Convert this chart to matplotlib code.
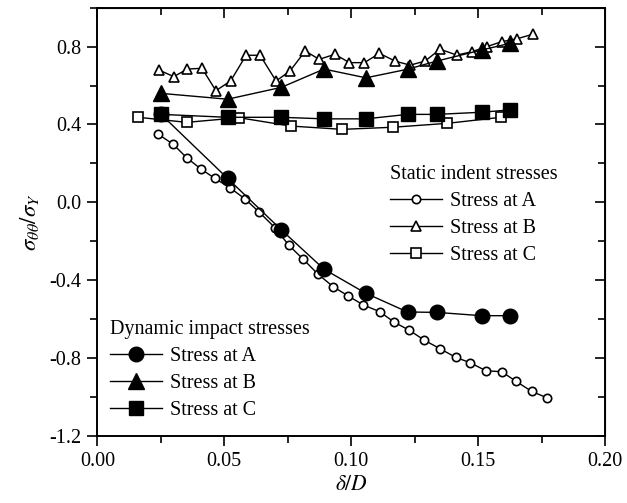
import numpy as np
import matplotlib
matplotlib.use("Agg")
import matplotlib.pyplot as plt
from matplotlib.ticker import MultipleLocator

# static indent stresses (open markers)
static_a_x = [0.0240, 0.0299, 0.0352, 0.0408, 0.0463, 0.0522, 0.0582, 0.0638, 0.0700,
              0.0755, 0.0812, 0.0869, 0.0929, 0.0989, 0.1048, 0.1112, 0.1170, 0.1228,
              0.1287, 0.1350, 0.1412, 0.1469, 0.1531, 0.1593, 0.1649, 0.1711, 0.1773]
static_a_y = [0.350, 0.298, 0.229, 0.171, 0.123, 0.075, 0.017, -0.051, -0.131,
              -0.222, -0.294, -0.369, -0.434, -0.482, -0.528, -0.562, -0.617, -0.657,
              -0.708, -0.753, -0.797, -0.825, -0.866, -0.871, -0.920, -0.972, -1.006]

static_b_x = [0.0243, 0.0301, 0.0354, 0.0412, 0.0467, 0.0525, 0.0586, 0.0641, 0.0704,
              0.0759, 0.0819, 0.0874, 0.0936, 0.0993, 0.1052, 0.1111, 0.1173, 0.1232,
              0.1291, 0.1350, 0.1416, 0.1475, 0.1534, 0.1593, 0.1652, 0.1715]
static_b_y = [0.680, 0.646, 0.685, 0.689, 0.574, 0.624, 0.756, 0.756, 0.624,
              0.675, 0.778, 0.735, 0.761, 0.718, 0.718, 0.766, 0.726, 0.705,
              0.726, 0.787, 0.757, 0.774, 0.800, 0.826, 0.840, 0.864]

static_c_x = [0.0161, 0.0352, 0.0558, 0.0762, 0.0965, 0.1166, 0.1379, 0.1590]
static_c_y = [0.437, 0.411, 0.435, 0.392, 0.375, 0.386, 0.406, 0.437]

# dynamic impact stresses (filled markers)
dyn_x = [0.0251, 0.0513, 0.0725, 0.0893, 0.1058, 0.1222, 0.1337, 0.1514, 0.1625]
dyn_a_y = [0.452, 0.123, -0.142, -0.344, -0.468, -0.564, -0.566, -0.583, -0.583]
dyn_b_y = [0.560, 0.530, 0.591, 0.685, 0.640, 0.684, 0.726, 0.783, 0.817]
dyn_c_y = [0.452, 0.437, 0.437, 0.429, 0.429, 0.452, 0.452, 0.463, 0.475]

plt.rcParams['font.family'] = 'Liberation Serif'
plt.rcParams['mathtext.fontset'] = 'stix'
plt.rcParams['axes.unicode_minus'] = False
fs = 14.5

fig = plt.figure(figsize=(6.27, 5.03), dpi=100)
ax = fig.add_axes([0.1553, 0.1338, 0.8096, 0.8507])

lw = 1.0
ow = 1.2
sa, = ax.plot(static_a_x, static_a_y, '-o', color='black', lw=lw, ms=6, mfc='white', mew=ow)
sb, = ax.plot(static_b_x, static_b_y, '-^', color='black', lw=lw, ms=7.5, mfc='white', mew=ow)
sc, = ax.plot(static_c_x, static_c_y, '-s', color='black', lw=lw, ms=7, mfc='white', mew=ow)

da, = ax.plot(dyn_x, dyn_a_y, '-o', color='black', lw=lw, ms=10.5)
db, = ax.plot(dyn_x, dyn_b_y, '-^', color='black', lw=lw, ms=11)
dc, = ax.plot(dyn_x, dyn_c_y, '-s', color='black', lw=lw, ms=9.5)

ax.set_xlim(0, 0.2)
ax.set_ylim(-1.2, 1.0)
ax.xaxis.set_minor_locator(MultipleLocator(0.025))
ax.yaxis.set_minor_locator(MultipleLocator(0.2))
ax.set_xticks([0, 0.05, 0.10, 0.15, 0.20])
ax.set_xticklabels(['0.00', '0.05', '0.10', '0.15', '0.20'])
ax.set_yticks([-1.2, -0.8, -0.4, 0.0, 0.4, 0.8])
ax.set_yticklabels(['-1.2', '-0.8', '-0.4', '0.0', '0.4', '0.8'])
ax.tick_params(which='major', direction='out', length=7.5, width=1.2, labelsize=fs, pad=4)
ax.tick_params(which='minor', direction='out', length=5, width=1.2)
for s in ax.spines.values():
    s.set_linewidth(1.4)

# inward ticks on top and right
top = ax.secondary_xaxis('top')
top.xaxis.set_major_locator(MultipleLocator(0.05))
top.xaxis.set_minor_locator(MultipleLocator(0.025))
top.tick_params(which='major', direction='in', length=7, width=1.2, labeltop=False)
top.tick_params(which='minor', direction='in', length=5, width=1.2)
right = ax.secondary_yaxis('right')
right.yaxis.set_major_locator(MultipleLocator(0.4))
right.yaxis.set_minor_locator(MultipleLocator(0.2))
right.tick_params(which='major', direction='in', length=7, width=1.2, labelright=False)
right.tick_params(which='minor', direction='in', length=5, width=1.2)

ax.set_xlabel(r'$\delta/D$', fontsize=fs + 1, labelpad=4)
ax.set_ylabel(r'$\sigma_{\theta\theta}/\sigma_Y$', fontsize=fs + 2, labelpad=6)

leg1 = ax.legend([sa, sb, sc], ['Stress at A', 'Stress at B', 'Stress at C'],
                 title='Static indent stresses', loc='upper left',
                 bbox_to_anchor=(0.5764, 0.6326), frameon=False, fontsize=fs,
                 title_fontsize=fs, alignment='left', borderpad=0, borderaxespad=0,
                 handlelength=2.6, handletextpad=0.36, labelspacing=0.4)
ax.add_artist(leg1)
leg2 = ax.legend([da, db, dc], ['Stress at A', 'Stress at B', 'Stress at C'],
                 title='Dynamic impact stresses', loc='upper left',
                 bbox_to_anchor=(0.0248, 0.2704), frameon=False, fontsize=fs,
                 title_fontsize=fs, alignment='left', borderpad=0, borderaxespad=0,
                 handlelength=2.6, handletextpad=0.36, labelspacing=0.4)

fig.savefig('out.png', dpi=100)
